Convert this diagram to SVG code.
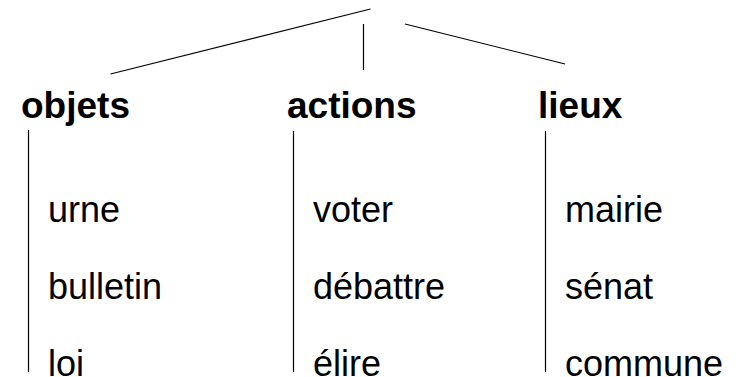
<svg xmlns="http://www.w3.org/2000/svg" width="739" height="377" viewBox="0 0 739 377">
<style>
.h{font-family:"Liberation Sans",Arial,sans-serif;font-weight:bold;font-size:37px;fill:#000}
.t{font-family:"Liberation Sans",Arial,sans-serif;font-size:36px;fill:#000}
.c line{stroke:#000;stroke-width:1.2}
</style>
<rect width="739" height="377" fill="#fff"/>
<g id="connectors" class="c">
<line x1="110.5" y1="74" x2="370.5" y2="9"/>
<line x1="363.5" y1="24" x2="363.5" y2="70"/>
<line x1="405" y1="24" x2="565" y2="64"/>
<line x1="28.5" y1="130" x2="28.5" y2="372"/>
<line x1="293.5" y1="131" x2="293.5" y2="372"/>
<line x1="545.5" y1="131" x2="545.5" y2="372"/>
</g>
<g id="objets">
<text class="h" x="21" y="118">objets</text>
<text class="t" x="48" y="222">urne</text>
<text class="t" x="48" y="299">bulletin</text>
<text class="t" x="48" y="376">loi</text>
</g>
<g id="actions">
<text class="h" x="287" y="118">actions</text>
<text class="t" x="313" y="222">voter</text>
<text class="t" x="313" y="299">débattre</text>
<text class="t" x="313" y="376">élire</text>
</g>
<g id="lieux">
<text class="h" x="538" y="118">lieux</text>
<text class="t" x="565" y="222">mairie</text>
<text class="t" x="565" y="299">sénat</text>
<text class="t" x="565" y="376">commune</text>
</g>
</svg>
